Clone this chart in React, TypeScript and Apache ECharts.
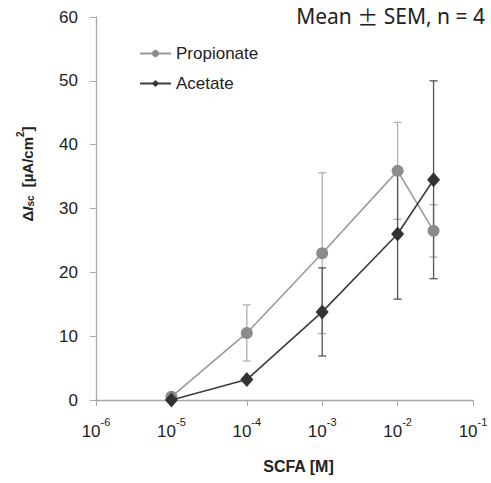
import React, { useEffect, useRef } from "react";
import * as echarts from "echarts";

const concentrations = [1e-5, 1e-4, 1e-3, 1e-2, 3e-2];
const propionateMean = [0.5, 10.5, 23.0, 35.9, 26.5];
const propionateSem = [0, 4.4, 12.6, 7.6, 4.1];
const acetateMean = [0, 3.2, 13.8, 26.0, 34.5];
const acetateSem = [0, 0.4, 6.9, 10.2, 15.5];
const yTicks = [0, 10, 20, 30, 40, 50, 60];

const propColor = "#8c8c8c";
const propLine = "#9a9a9a";
const propErr = "#b0b0b0";
const acetColor = "#333333";
const acetLine = "#3c3c3c";
const acetErr = "#555555";

function errSeries(name: string, mean: number[], sem: number[], color: string) {
  const data = concentrations.map((c, i) => [c, mean[i] - sem[i], mean[i] + sem[i]]);
  return {
    type: "custom",
    name: name + "_err",
    silent: true,
    z: 1,
    data,
    renderItem: (params: any, api: any) => {
      const x = api.value(0);
      const lo = api.coord([x, api.value(1)]);
      const hi = api.coord([x, api.value(2)]);
      if (Math.abs(hi[1] - lo[1]) < 1) return { type: "group", children: [] };
      const w = 4;
      const style = { stroke: color, lineWidth: 1.3 };
      return {
        type: "group",
        children: [
          { type: "line", shape: { x1: lo[0], y1: lo[1], x2: hi[0], y2: hi[1] }, style },
          { type: "line", shape: { x1: lo[0] - w, y1: lo[1], x2: lo[0] + w, y2: lo[1] }, style },
          { type: "line", shape: { x1: hi[0] - w, y1: hi[1], x2: hi[0] + w, y2: hi[1] }, style },
        ],
      };
    },
  };
}

export default function App() {
  const ref = useRef<HTMLDivElement>(null);
  useEffect(() => {
    const chart = echarts.init(ref.current!, null, { renderer: "svg" });
    const font = "Liberation Sans, Arial, sans-serif";
    chart.setOption({
      animation: false,
      backgroundColor: "#ffffff",
      grid: { left: 96, right: 18, top: 17, bottom: 83 },
      legend: {
        orient: "vertical",
        left: 139,
        top: 45,
        padding: 0,
        itemGap: 13,
        itemWidth: 31,
        itemHeight: 9,
        data: ["Propionate", "Acetate"],
        textStyle: { fontFamily: font, fontSize: 17, color: "#222" },
      },
      graphic: [
        {
          type: "text",
          right: 6,
          top: 5,
          style: {
            text: "{a|Mean }{b|\u00b1}{a| SEM, n = 4}",
            rich: {
              a: { fontFamily: "'Noto Sans', sans-serif", fontSize: 21, fill: "#222", lineHeight: 26 },
              b: { fontFamily: "'Noto Sans CJK KR', sans-serif", fontSize: 21, fill: "#222", lineHeight: 26 },
            },
          },
        },
        {
          type: "text",
          x: 25,
          y: 174,
          rotation: Math.PI / 2,
          style: {
            text: "{d|\u0394}{i|I}{s|sc}{d| [\u00b5A/cm}{p|2}{d|]}",
            align: "center",
            verticalAlign: "middle",
            rich: {
              d: { fontFamily: font, fontWeight: "bold", fontSize: 15, fill: "#222", verticalAlign: "bottom", lineHeight: 20 },
              i: { fontFamily: font, fontWeight: "bold", fontStyle: "italic", fontSize: 15, fill: "#222", verticalAlign: "bottom", lineHeight: 20 },
              s: { fontFamily: font, fontWeight: "bold", fontSize: 10, fill: "#222", verticalAlign: "bottom", lineHeight: 14, padding: [0, 4, 0, 0] },
              p: { fontFamily: font, fontWeight: "bold", fontSize: 10, fill: "#222", verticalAlign: "top", lineHeight: 13 },
            },
          },
        },
      ],
      xAxis: {
        type: "log",
        logBase: 10,
        min: 1e-6,
        max: 1e-1,
        name: "SCFA [M]",
        nameLocation: "middle",
        nameGap: 58,
        nameTextStyle: { fontFamily: font, fontWeight: "bold", fontSize: 16, color: "#222", padding: [0, 0, 0, 28] },
        axisLine: { lineStyle: { color: "#a8a8a8", width: 1.3 } },
        axisTick: { show: true, length: 6, inside: false, lineStyle: { color: "#a8a8a8" } },
        splitLine: { show: false },
        minorTick: { show: false },
        axisLabel: {
          margin: 16,
          showMaxLabel: true,
          formatter: (v: number) => `{a|10}{b|${Math.round(Math.log10(v))}}`,
          rich: {
            a: { fontFamily: font, fontSize: 17, color: "#222", verticalAlign: "bottom", lineHeight: 24 },
            b: { fontFamily: font, fontSize: 11, color: "#222", verticalAlign: "top", lineHeight: 12 },
          },
        },
      },
      yAxis: {
        type: "value",
        min: 0,
        max: 60,
        interval: 10,
        axisLine: { show: true, lineStyle: { color: "#a8a8a8", width: 1.3 } },
        axisTick: { show: true, length: 6, lineStyle: { color: "#a8a8a8" } },
        splitLine: { show: false },
        axisLabel: {
          margin: 18,
          fontFamily: font,
          fontSize: 17,
          color: "#222",
          formatter: (v: number) => (yTicks.includes(v) ? String(v) : ""),
        },
      },
      series: [
        errSeries("Propionate", propionateMean, propionateSem, propErr),
        errSeries("Acetate", acetateMean, acetateSem, acetErr),
        {
          type: "line",
          name: "Propionate",
          z: 3,
          data: concentrations.map((c, i) => [c, propionateMean[i]]),
          symbol: "circle",
          symbolSize: 12,
          lineStyle: { color: propLine, width: 1.6 },
          itemStyle: { color: propColor },
        },
        {
          type: "line",
          name: "Acetate",
          z: 4,
          data: concentrations.map((c, i) => [c, acetateMean[i]]),
          symbol: "diamond",
          symbolSize: [13, 15],
          lineStyle: { color: acetLine, width: 1.6 },
          itemStyle: { color: acetColor },
        },
      ],
    });
    return () => chart.dispose();
  }, []);
  return (
    <div
      ref={ref}
      style={{ position: "fixed", left: 0, top: 0, width: 491, height: 483, overflow: "visible" }}
    />
  );
}
